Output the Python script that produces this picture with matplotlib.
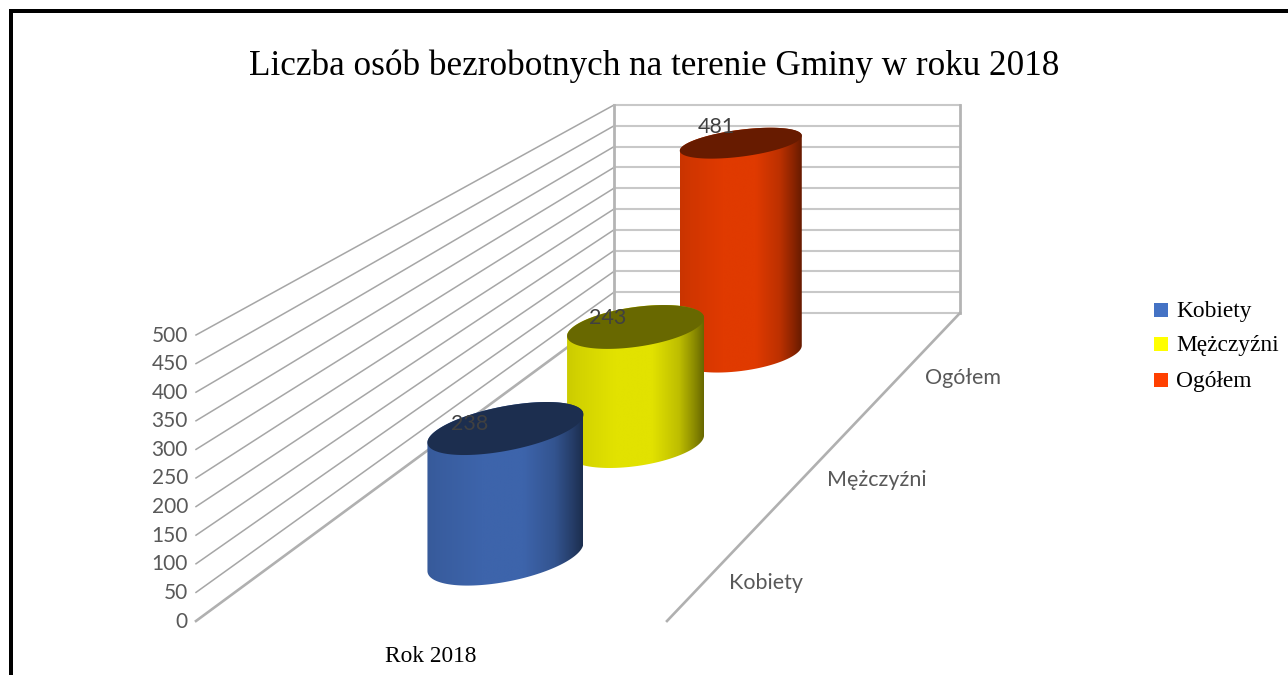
"""Liczba osob bezrobotnych - cylindry 3D rysowane na osi w pikselach."""
import numpy as np
import matplotlib
matplotlib.use("Agg")
import matplotlib.pyplot as plt
from matplotlib.patches import Polygon, Rectangle

TITLE = "Liczba osób bezrobotnych na terenie Gminy w roku 2018"
CATEGORY = "Rok 2018"
SERIES = ["Kobiety", "Mężczyźni", "Ogółem"]
VALUES = [238, 243, 481]
Y_TICKS = [0, 50, 100, 150, 200, 250, 300, 350, 400, 450, 500]

SERIF = "Liberation Serif"
SANS = "Lato"
GREY_TXT = "#595959"
BODY_COLORS = ["#3d64ab", "#e2e200", "#e03a00"]
LEGEND_COLORS = ["#4472c4", "#ffff00", "#ff4000"]

# floor corners in pixels, and px per unit of value at the front / back
FRONT_L, FRONT_R = (196, 621), (667, 621)
BACK_L, BACK_R = (614, 313), (960, 313)
S_FRONT, S_BACK = 0.572, 0.416


def project(a, d, v):
    """a: 0-1 across, d: 0-1 depth on screen, v: value"""
    fx = FRONT_L[0] + a * (FRONT_R[0] - FRONT_L[0])
    bx = BACK_L[0] + a * (BACK_R[0] - BACK_L[0])
    x = fx + d * (bx - fx)
    y = FRONT_L[1] + d * (BACK_L[1] - FRONT_L[1])
    return x, y - v * (S_FRONT + d * (S_BACK - S_FRONT))


fig = plt.figure(figsize=(12.88, 6.75), dpi=100)
ax = fig.add_axes([0, 0, 1, 1])
ax.axis("off")

# page frame
ax.add_patch(Rectangle((9, 9), 1290, 4, fc="black", ec="none"))
ax.add_patch(Rectangle((9, 9), 4, 680, fc="black", ec="none"))

# walls
for v in Y_TICKS:
    lw = 1.9 if v == 0 else 1.1
    x0, y0 = project(0, 0, v)
    x1, y1 = project(0, 1, v)
    x2, y2 = project(1, 1, v)
    ax.plot([x0, x1], [y0, y1], color="#a6a6a6" if v else "#b0b0b0", lw=lw, zorder=1)
    ax.plot([x1, x2], [y1, y2], color="#c8c8c8", lw=1.5, zorder=1)
    ax.text(x0 - 8, y0 + 0.5, str(v), ha="right", va="center", family=SANS,
            fontsize=15, color=GREY_TXT)
for a in [0, 1]:
    x0, y0 = project(a, 1, 0)
    x1, y1 = project(a, 1, Y_TICKS[-1])
    ax.plot([x0, x1], [y0, y1], color="#b4b4b4", lw=2, zorder=1)
x0, y0 = project(1, 0, 0)
x1, y1 = project(1, 1, 0)
ax.plot([x0, x1], [y0, y1], color="#b0b0b0", lw=1.9, zorder=1)

# depth on screen, half width, tilt and roundness of the ellipses
depths = [0.208, 0.574, 0.87]
half_w = [78, 68.5, 61]
tilt = [14, 9, 7.5]
round_top = [22.5, 20, 13.5]
round_bot = [25, 22, 18]
label_off = [(-36, -5), (-28, -9), (-24, -16)]
cat_pos = [(766, 583), (877, 480), (963, 378)]

shade_x = [0, 0.08, 0.35, 0.62, 0.82, 0.93, 1]
shade_k = [0.90, 0.93, 1.0, 1.0, 0.84, 0.62, 0.46]
theta = np.linspace(0, np.pi, 80)

# back to front
for i in [2, 1, 0]:
    cx, base = project(0.5, depths[i], 0)
    _, top = project(0.5, depths[i], VALUES[i])
    A = half_w[i]
    rgb = np.array(matplotlib.colors.to_rgb(BODY_COLORS[i]))
    t = np.linspace(0, 1, 200)
    k = np.interp(t, shade_x, shade_k)
    grad = (k[:, None] * rgb)[None, :, :]

    # body outline: bottom arc right to left, then top back arc left to right
    bx = cx + A * np.cos(theta)
    by = base - tilt[i] * np.cos(theta) + round_bot[i] * np.sin(theta)
    tx = cx + A * np.cos(theta[::-1])
    ty = top - tilt[i] * np.cos(theta[::-1]) - round_top[i] * np.sin(theta[::-1])
    body = Polygon(np.r_[np.c_[bx, by], np.c_[tx, ty]], closed=True,
                   transform=ax.transData, fc="none", ec="none")
    ax.add_patch(body)
    im = ax.imshow(grad, extent=[cx - A, cx + A, by.max() + 5, ty.min() - 5],
                   aspect="auto", interpolation="bilinear", zorder=2 + (2 - i))
    im.set_clip_path(body)

    # top face
    full = np.linspace(0, 2 * np.pi, 160)
    ex = cx + A * np.cos(full)
    ey = top - tilt[i] * np.cos(full) + round_top[i] * np.sin(full)
    ax.add_patch(Polygon(np.c_[ex, ey], closed=True, fc=rgb * 0.46, ec="none",
                         zorder=2.5 + (2 - i)))

for i in range(len(SERIES)):
    cx, top = project(0.5, depths[i], VALUES[i])
    ax.text(cx + label_off[i][0], top + label_off[i][1], str(VALUES[i]), ha="center",
            va="center", family=SANS, fontsize=15.5, color="#404040", zorder=10)
    ax.text(cat_pos[i][0], cat_pos[i][1], SERIES[i], ha="center", va="center",
            family=SANS, fontsize=15.5, color=GREY_TXT)

# legend
legend_y = [312, 346, 382]
for i, name in enumerate(SERIES):
    ax.add_patch(Rectangle((1154, legend_y[i] - 9), 14, 14, fc=LEGEND_COLORS[i], ec="none"))
    ax.text(1176, legend_y[i], name, ha="left", va="center", family=SERIF,
            fontsize=16.8, color="black")

ax.text(654, 66, TITLE, ha="center", va="center", family=SERIF, fontsize=25.3, color="black")
ax.text(431, 657, CATEGORY, ha="center", va="center", family=SERIF, fontsize=16.8, color="black")

ax.set_xlim(0, 1288)
ax.set_ylim(675, 0)
fig.savefig("out.png", dpi=100, facecolor="white")
